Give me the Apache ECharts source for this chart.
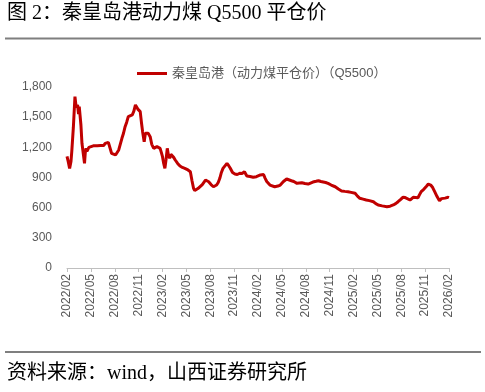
<!DOCTYPE html>
<html>
<head>
<meta charset="utf-8">
<script src="https://cdn.jsdelivr.net/npm/echarts@6/dist/echarts.min.js"></script>
<style>
  html, body { margin: 0; padding: 0; background: #fff; }
  #chart { width: 485px; height: 392px; }
</style>
</head>
<body>
<div id="chart"></div>
<script>
// months counted from 2022/02
const tickLabels = ['2022/02', '2022/05', '2022/08', '2022/11', '2023/02', '2023/05', '2023/08', '2023/11',
  '2024/02', '2024/05', '2024/08', '2024/11', '2025/02', '2025/05', '2025/08', '2025/11', '2026/02']

const monthOffset = [
  0.0, 0.15, 0.33, 0.5, 0.6, 0.8, 1.0, 1.15, 1.33, 1.45, 1.54, 1.75, 1.88, 2.0, 2.08, 2.2, 2.3, 2.4, 2.5, 2.6,
  2.75, 2.9, 3.3, 3.8, 4.2, 4.6, 4.8, 5.0, 5.2, 5.35, 5.6, 5.85, 6.1, 6.3, 6.5, 6.9, 7.1, 7.3, 7.5, 7.7,
  7.9, 8.2, 8.4, 8.6, 8.9, 9.2, 9.35, 9.5, 9.7, 9.85, 10.0, 10.2, 10.45, 10.65, 10.9, 11.1, 11.3, 11.5, 11.7, 11.85,
  12.0, 12.15, 12.3, 12.45, 12.6, 12.75, 12.9, 13.05, 13.2, 13.4, 13.6, 13.9, 14.2, 14.5, 14.8, 15.2, 15.5, 15.7, 15.9, 16.05,
  16.2, 16.45, 16.7, 17.0, 17.4, 17.6, 17.8, 18.1, 18.4, 18.8, 19.0, 19.2, 19.4, 19.6, 19.85, 20.1, 20.3, 20.5, 20.8, 21.1,
  21.4, 21.7, 22.0, 22.3, 22.6, 23.0, 23.4, 23.8, 24.3, 24.5, 24.7, 24.9, 25.1, 25.5, 26.1, 26.5, 26.8, 27.2, 27.6, 28.2,
  28.5, 28.9, 29.5, 29.9, 30.3, 30.6, 30.9, 31.3, 31.6, 31.9, 32.2, 32.5, 32.8, 33.2, 33.7, 34.1, 34.5, 34.9, 35.3, 35.7,
  36.2, 36.5, 36.8, 37.2, 37.6, 38.0, 38.5, 38.8, 39.1, 39.6, 40.2, 40.6, 41.0, 41.3, 41.6, 41.9, 42.2, 42.5, 42.7, 43.1,
  43.3, 43.5, 43.8, 44.1, 44.3, 44.5, 44.8, 45.0, 45.2, 45.4, 45.7, 45.95, 46.2, 46.5, 46.8, 47.05, 47.3, 47.5, 47.7, 47.9,
  48.0
]

const price = [
  1110, 1060, 990, 1060, 1157, 1400, 1704, 1600, 1621, 1530, 1604, 1422, 1240, 1250, 1223, 1041, 1150, 1190, 1160, 1157,
  1200, 1207, 1215, 1215, 1218, 1217, 1240, 1256, 1250, 1240, 1141, 1130, 1124, 1140, 1174, 1290, 1340, 1405, 1450, 1505,
  1520, 1522, 1560, 1621, 1580, 1555, 1450, 1356, 1256, 1340, 1356, 1340, 1306, 1230, 1190, 1200, 1207, 1200, 1190, 1150,
  1107, 1040, 991, 1080, 1190, 1120, 1091, 1130, 1141, 1100, 1074, 1040, 1014, 1000, 991, 975, 958, 870, 793, 770,
  759, 790, 808, 830, 875, 865, 858, 830, 808, 825, 850, 892, 950, 991, 1000, 1041, 1020, 995, 950, 935,
  930, 942, 940, 958, 915, 910, 902, 908, 925, 942, 930, 892, 860, 825, 808, 815, 825, 860, 885, 868,
  860, 842, 848, 840, 835, 845, 855, 862, 868, 860, 855, 850, 842, 825, 808, 785, 766, 762, 759, 752,
  743, 715, 693, 685, 676, 670, 659, 640, 627, 618, 610, 615, 627, 640, 659, 680, 703, 700, 693, 676,
  690, 703, 702, 699, 730, 759, 780, 793, 815, 835, 825, 800, 759, 710, 669, 690, 703, 695, 693, 703,
  700
]

const seriesName = '秦皇岛港（动力煤平仓价）（Q5500）'
const titleText = '图 2：秦皇岛港动力煤 Q5500 平仓价'
const sourceText = '资料来源：wind，山西证券研究所'

const chart = echarts.init(document.getElementById('chart'))
const axisGrey = '#595959'
const docFont = '"Liberation Serif", "Noto Sans CJK SC", serif'

chart.setOption({
  animation: false,
  textStyle: { fontFamily: 'Liberation Sans, Arial, "Noto Sans CJK SC", sans-serif' },
  graphic: [
    { type: 'text', left: 7, top: 4, style: { text: titleText, fontSize: 20, fill: '#000', fontFamily: docFont } },
    { type: 'line', shape: { x1: 5, y1: 38.5, x2: 481, y2: 38.5 }, style: { stroke: '#7f7f7f', lineWidth: 2 } },
    { type: 'line', shape: { x1: 5, y1: 352, x2: 481, y2: 352 }, style: { stroke: '#7f7f7f', lineWidth: 2 } },
    { type: 'text', left: 7, top: 364, style: { text: sourceText, fontSize: 20, fill: '#000', fontFamily: docFont } }
  ],
  legend: {
    top: 67,
    left: 137,
    padding: 0,
    itemWidth: 30,
    itemHeight: 3,
    icon: 'rect',
    textStyle: { color: axisGrey, fontSize: 13 },
    data: [seriesName]
  },
  grid: { left: 67, right: 36, top: 87, bottom: 124 },
  xAxis: {
    type: 'value',
    min: 0,
    max: 48,
    interval: 3,
    splitLine: { show: false },
    axisLine: { lineStyle: { color: '#bfbfbf', width: 1 } },
    axisTick: { show: true, length: 4, lineStyle: { color: '#bfbfbf' } },
    axisLabel: {
      rotate: 90,
      color: axisGrey,
      fontSize: 12,
      margin: 6,
      formatter: v => tickLabels[Math.round(v / 3)]
    }
  },
  yAxis: {
    type: 'value',
    min: 0,
    max: 1800,
    interval: 300,
    splitLine: { show: false },
    axisLine: { show: false },
    axisTick: { show: false },
    axisLabel: {
      color: axisGrey,
      fontSize: 12,
      margin: 15,
      formatter: v => v.toLocaleString('en-US')
    }
  },
  series: [{
    name: seriesName,
    type: 'line',
    data: monthOffset.map((m, i) => [m, price[i]]),
    showSymbol: false,
    lineStyle: { color: '#c00000', width: 3 },
    itemStyle: { color: '#c00000' }
  }]
})
</script>
</body>
</html>
